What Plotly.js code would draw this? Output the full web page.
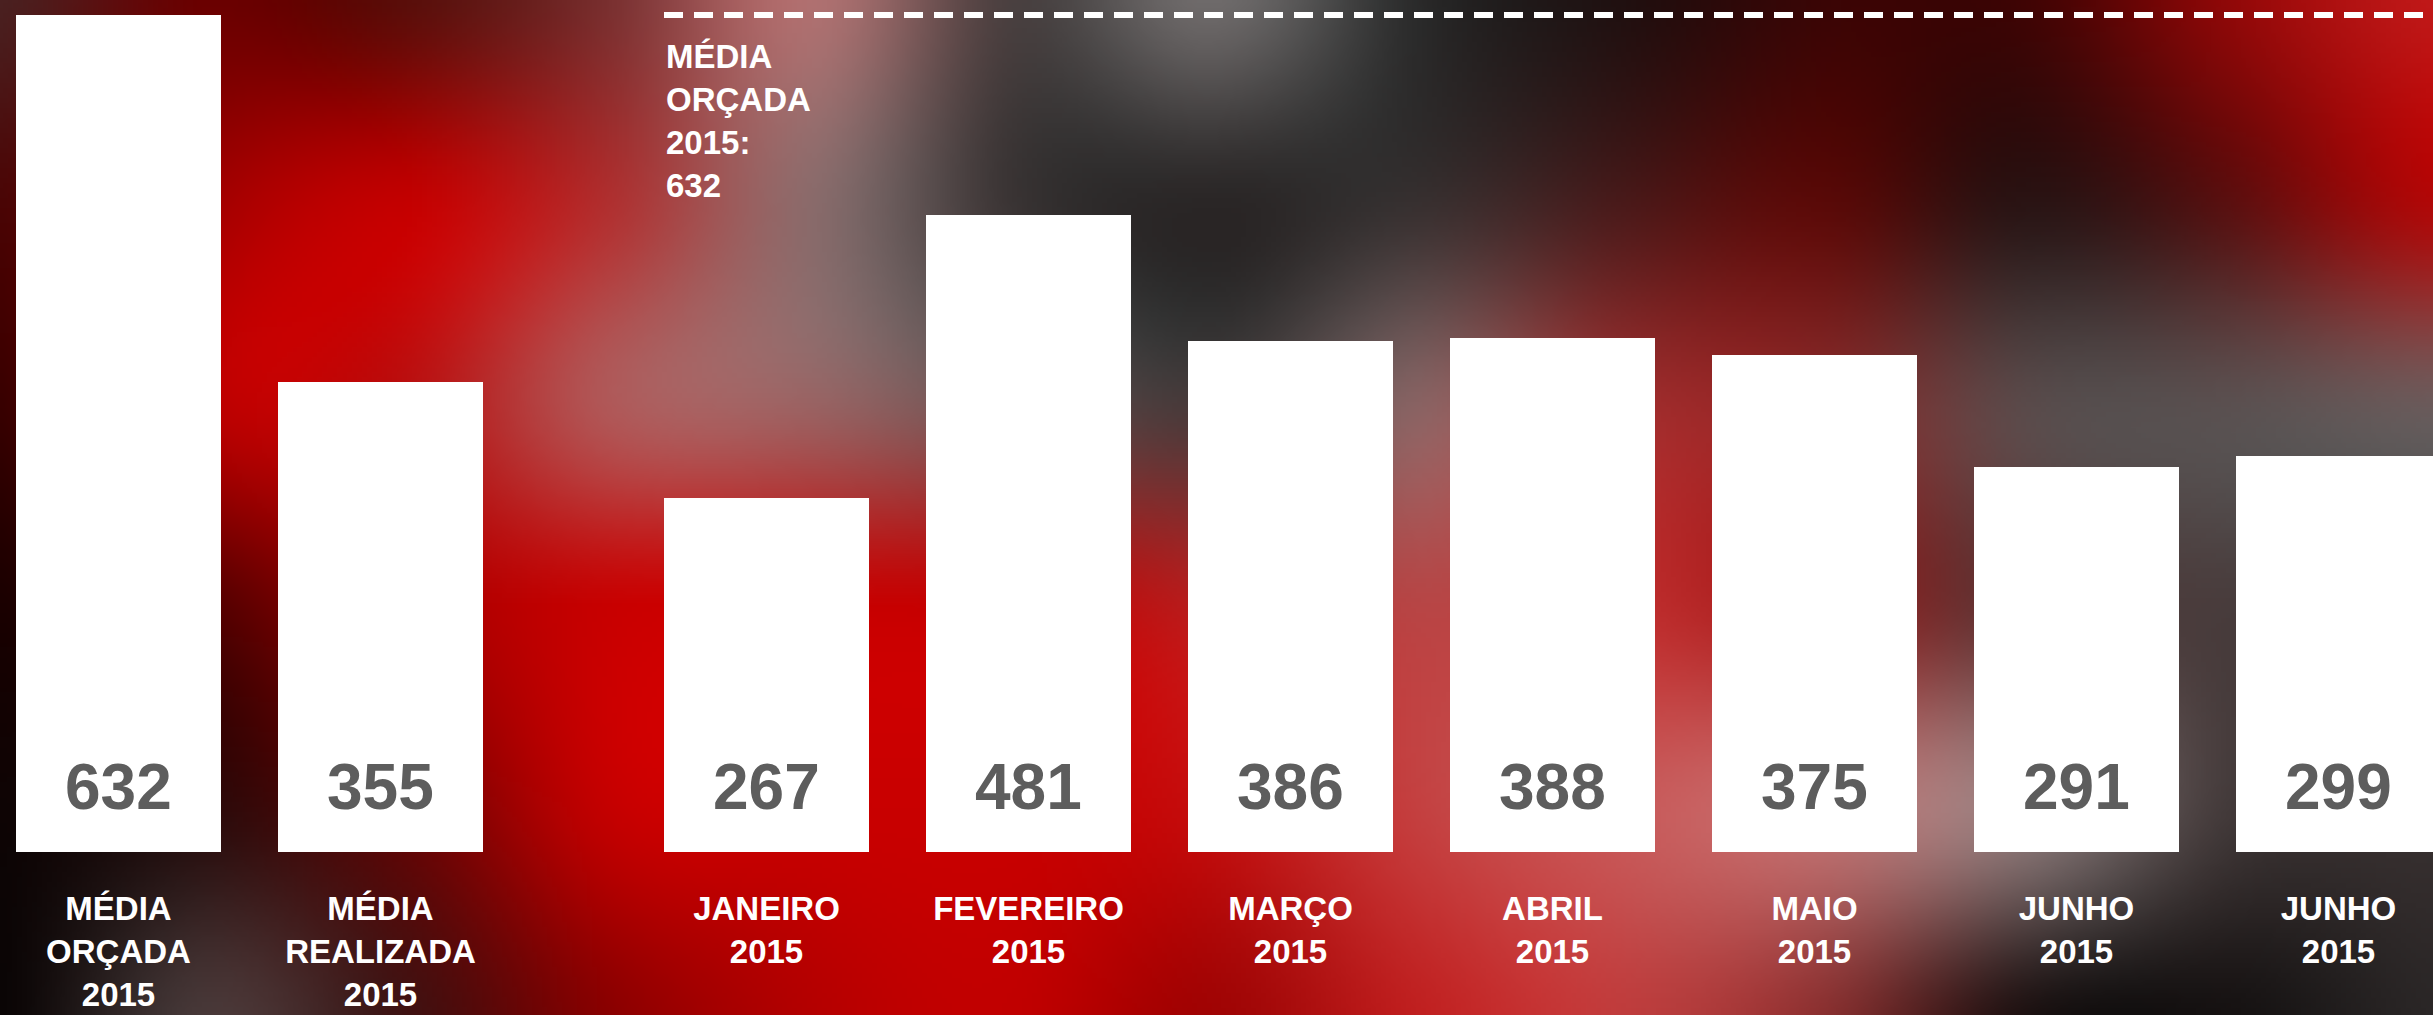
<!DOCTYPE html>
<html>
<head>
<meta charset="utf-8">
<script src="https://cdn.plot.ly/plotly-3.0.1.min.js"></script>
<style>
  html, body { margin: 0; padding: 0; background: #3a0a0a; overflow: hidden; }
  #chart { width: 2433px; height: 1015px; }
</style>
</head>
<body>
<div id="chart"></div>
<script>
// ---------------- data ----------------
const categories = [
  'MÉDIA ORÇADA 2015', 'MÉDIA REALIZADA 2015', 'JANEIRO 2015', 'FEVEREIRO 2015',
  'MARÇO 2015', 'ABRIL 2015', 'MAIO 2015', 'JUNHO 2015', 'JUNHO 2015'
];
const tickLabels = [
  'MÉDIA<br>ORÇADA<br>2015', 'MÉDIA<br>REALIZADA<br>2015', 'JANEIRO<br>2015', 'FEVEREIRO<br>2015',
  'MARÇO<br>2015', 'ABRIL<br>2015', 'MAIO<br>2015', 'JUNHO<br>2015', 'JUNHO<br>2015'
];
const values = [632, 355, 267, 481, 386, 388, 375, 291, 299];
const budgetAverage = 632;
const budgetNote = 'MÉDIA<br>ORÇADA<br>2015:<br>632';

// ---------------- background colour samples (style) ----------------
const bgGrid = [
  ['#4a2020','#6a0000','#5a0e0a','#7a3030','#b07070','#4a4040','#6e6a6a','#2a2a2a','#201010','#3a0505','#400404','#900808','#c01818'],
  ['#4a0505','#a00000','#c40000','#b03030','#8a6a6a','#3a3434','#2a2626','#383030','#4a1a1a','#5a0a08','#2a1414','#5a1010','#b00808'],
  ['#380000','#b80000','#b81010','#b05858','#9a6262','#6a5050','#4a3a3a','#8a6262','#a03030','#8a2a2a','#5a4a4a','#5a5050','#6a5a5a'],
  ['#1a0000','#500000','#a00000','#c80000','#c80000','#c40404','#b82020','#b84545','#c03030','#9a2020','#5a3838','#483c3c','#403535'],
  ['#0e0404','#2a0a0a','#6a0404','#c40000','#c80000','#c80000','#c41010','#c44040','#c85858','#c07070','#907a7a','#433a3a','#383030'],
  ['#0a0505','#483838','#401212','#8a0000','#b40000','#c00000','#a00404','#c02020','#c03c3c','#8a3030','#1e1212','#161212','#2a2626']
];

function hexToRgb(h) {
  return [parseInt(h.slice(1,3),16), parseInt(h.slice(3,5),16), parseInt(h.slice(5,7),16)];
}
function makeBackground() {
  const W = 487, H = 203;
  const rows = bgGrid.length, cols = bgGrid[0].length;
  const g = bgGrid.map(r => r.map(hexToRgb));
  const cv = document.createElement('canvas');
  cv.width = W; cv.height = H;
  const ctx = cv.getContext('2d');
  const img = ctx.createImageData(W, H);
  const cr = (p0, p1, p2, p3, t) => 0.5 * ((2*p1) + (-p0 + p2)*t + (2*p0 - 5*p1 + 4*p2 - p3)*t*t + (-p0 + 3*p1 - 3*p2 + p3)*t*t*t);
  const at = (r, c, k) => g[Math.max(0, Math.min(rows-1, r))][Math.max(0, Math.min(cols-1, c))][k];
  for (let py = 0; py < H; py++) {
    const gy = py / (H - 1) * (rows - 1);
    const r1 = Math.min(rows - 2, Math.floor(gy)), ty = gy - r1;
    for (let px = 0; px < W; px++) {
      const gx = px / (W - 1) * (cols - 1);
      const c1 = Math.min(cols - 2, Math.floor(gx)), tx = gx - c1;
      const idx = (py * W + px) * 4;
      for (let k = 0; k < 3; k++) {
        const colv = [];
        for (let dr = -1; dr <= 2; dr++) {
          colv.push(cr(at(r1+dr, c1-1, k), at(r1+dr, c1, k), at(r1+dr, c1+1, k), at(r1+dr, c1+2, k), tx));
        }
        const v = cr(colv[0], colv[1], colv[2], colv[3], ty);
        img.data[idx + k] = Math.max(0, Math.min(255, Math.round(v)));
      }
      img.data[idx + 3] = 255;
    }
  }
  ctx.putImageData(img, 0, 0);
  return cv.toDataURL('image/png');
}

// ---------------- layout constants ----------------
const W = 2433, H = 1015;
const marginB = 163;
const plotH = H - marginB;
const pxPerSlot = 262;
const groupGap = 124 / pxPerSlot;     // extra gap between the two groups
const barWidth = 205 / pxPerSlot;
const firstCenterPx = 118.5;
const xPos = values.map((v, i) => i + (i >= 2 ? groupGap : 0));
const xRange = [-firstCenterPx / pxPerSlot, (W - firstCenterPx) / pxPerSlot];
const pxPerUnit = 837 / 632;
const yRange = [0, plotH / pxPerUnit];

const FONT = 'Liberation Sans, Arial, sans-serif';

const trace = {
  type: 'bar',
  x: xPos,
  y: values,
  width: barWidth,
  marker: { color: '#ffffff', line: { width: 0 } },
  hoverinfo: 'skip',
  customdata: categories
};

const valueAnnotations = values.map((v, i) => ({
  x: xPos[i], y: 0, xref: 'x', yref: 'y',
  yanchor: 'middle', yshift: 65,
  text: String(v), showarrow: false,
  font: { family: FONT, size: 64, color: '#5d5d5d', weight: 700 }
}));

const budgetLeft = xPos[2] - barWidth / 2;

const layout = {
  width: W, height: H,
  margin: { l: 0, r: 0, t: 0, b: marginB, pad: 0 },
  paper_bgcolor: '#3a0a0a',
  plot_bgcolor: 'rgba(0,0,0,0)',
  showlegend: false,
  bargap: 0,
  xaxis: {
    type: 'linear', range: xRange, fixedrange: true,
    showgrid: false, zeroline: false, showline: false,
    ticks: '', tickmode: 'array', tickvals: xPos, ticktext: tickLabels,
    tickfont: { family: FONT, size: 33, color: '#ffffff', weight: 700 },
    ticklabelstandoff: 34, automargin: false
  },
  yaxis: {
    range: yRange, fixedrange: true, visible: false,
    showgrid: false, zeroline: false
  },
  shapes: [{
    type: 'line', xref: 'x', yref: 'y',
    x0: budgetLeft, x1: xRange[1], y0: budgetAverage, y1: budgetAverage,
    line: { color: '#ffffff', width: 6, dash: '19px,11px' }
  }],
  annotations: valueAnnotations.concat([{
    x: budgetLeft, y: budgetAverage, xref: 'x', yref: 'y',
    xanchor: 'left', yanchor: 'top', yshift: -21, align: 'left',
    text: budgetNote, showarrow: false,
    font: { family: FONT, size: 33, color: '#ffffff', weight: 700 }
  }]),
  images: [{
    source: makeBackground(), xref: 'paper', yref: 'paper',
    x: 0, y: 1, sizex: 1, sizey: H / plotH,
    xanchor: 'left', yanchor: 'top', sizing: 'stretch', layer: 'below'
  }]
};

Plotly.newPlot('chart', [trace], layout, { displayModeBar: false, staticPlot: true });
</script>
</body>
</html>
